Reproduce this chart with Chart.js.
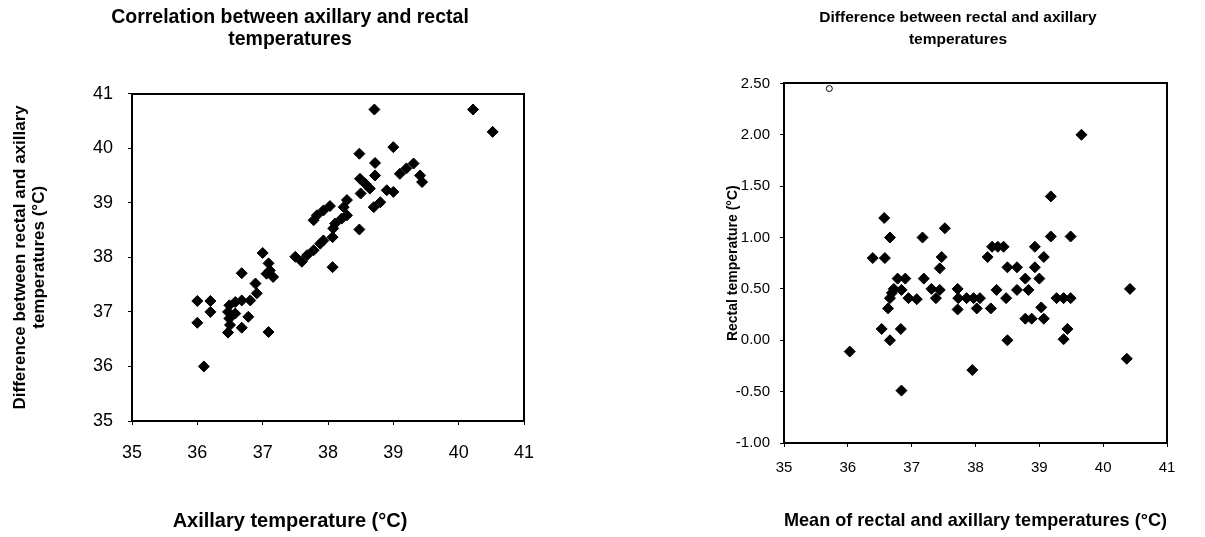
<!DOCTYPE html>
<html><head><meta charset="utf-8">
<script src="https://cdn.jsdelivr.net/npm/chart.js@4.4.1/dist/chart.umd.min.js"></script>
<style>
html,body{margin:0;padding:0;background:#fff;width:1205px;height:537px;overflow:hidden;}
#wrapL{position:absolute;left:0;top:0;width:580px;height:537px;}
#wrapR{position:absolute;left:711px;top:0;width:494px;height:537px;}
</style></head><body>
<div id="wrapL"><canvas id="cL"></canvas></div>
<div id="wrapR"><canvas id="cR"></canvas></div>
<script>
// ---- Left chart: axillary vs rectal ----
const leftTitle = ['Correlation between axillary and rectal', 'temperatures'];
const leftXTitle = 'Axillary temperature (\u00B0C)';
const leftYTitle = ['Difference between rectal and axillary', 'temperatures (\u00B0C)'];
const leftXTicks = [35, 36, 37, 38, 39, 40, 41];
const leftYTicks = [35, 36, 37, 38, 39, 40, 41];
const leftX = [36.0, 36.2, 36.2, 36.0, 36.1,
  36.49, 36.47, 36.49, 36.58, 36.5, 36.58, 36.68, 36.81, 36.91,
  36.78, 36.68, 36.47, 37.09,
  36.89, 36.68, 37.0,
  37.09, 37.11, 37.16, 37.06,
  37.5, 37.6, 37.68, 37.78, 37.88, 37.93,
  38.07, 38.07, 38.48,
  38.08, 38.11, 38.21, 38.29,
  37.78, 37.83, 37.93, 38.03,
  38.29, 38.24,
  38.8, 38.7,
  38.9, 39.0,
  38.49, 38.57, 38.5, 38.64,
  39.1, 39.2, 39.31,
  39.41, 39.44,
  38.72, 38.72, 38.48, 39.0, 38.71,
  40.22, 40.52];
const leftY = [37.2, 37.2, 37.0, 36.8, 36.0,
  37.12, 37.0, 36.88, 36.97, 36.76, 37.18, 37.21, 37.21, 37.34,
  36.91, 36.71, 36.62, 36.63,
  37.52, 37.71, 38.08,
  37.89, 37.76, 37.64, 37.7,
  38.01, 37.92, 38.04, 38.13, 38.25, 38.31,
  37.82, 38.37, 38.51,
  38.53, 38.62, 38.71, 38.77,
  38.68, 38.77, 38.86, 38.94,
  39.05, 38.92,
  39.01, 38.92,
  39.23, 39.2,
  39.44, 39.35, 39.17, 39.26,
  39.53, 39.63, 39.72,
  39.5, 39.38,
  39.5, 39.73, 39.9, 40.02, 40.71,
  40.71, 40.3];

// ---- Right chart: difference vs mean ----
const rightTitle = ['Difference between rectal and axillary', 'temperatures'];
const rightXTitle = 'Mean of rectal and axillary temperatures (\u00B0C)';
const rightYTitle = 'Rectal temperature (\u00B0C)';
const rightXTicks = [35, 36, 37, 38, 39, 40, 41];
const rightYTicks = [-1.0, -0.5, 0.0, 0.5, 1.0, 1.5, 2.0, 2.5];
const rightYTickLabels = ['-1.00', '-0.50', '0.00', '0.50', '1.00', '1.50', '2.00', '2.50'];
const rightX = [36.03, 36.39, 36.53, 36.57, 36.58, 36.63, 36.66, 36.66, 36.69, 36.72,
  36.66, 36.78, 36.84, 36.83, 36.84, 36.90, 36.95, 37.08, 37.17, 37.19,
  37.31, 37.38, 37.44, 37.44, 37.47, 37.52, 37.72, 37.73, 37.72, 37.86,
  37.97, 38.07, 38.02, 37.95, 38.19, 38.24, 38.26, 38.35, 38.44, 38.33,
  38.48, 38.50, 38.65, 38.65, 38.50, 38.78, 38.83, 38.78, 38.88, 38.93,
  38.93, 39.00, 39.07, 39.03, 39.07, 39.18, 39.18, 39.49, 39.27, 39.38,
  39.49, 39.44, 39.38, 39.66, 40.42, 40.37];
const rightY = [-0.11, 0.80, 0.11, 1.19, 0.80, 0.31, 1.00, 0.41, 0.46, 0.50,
  0.00, 0.60, 0.49, 0.11, -0.49, 0.60, 0.41, 0.40, 1.00, 0.60,
  0.50, 0.41, 0.49, 0.70, 0.81, 1.09, 0.50, 0.41, 0.30, 0.41,
  0.41, 0.41, 0.31, -0.29, 0.81, 0.31, 0.91, 0.91, 0.91, 0.49,
  0.41, 0.71, 0.71, 0.49, 0.00, 0.60, 0.49, 0.21, 0.21, 0.91,
  0.71, 0.60, 0.81, 0.32, 0.21, 1.40, 1.01, 1.01, 0.41, 0.41,
  0.41, 0.11, 0.01, 2.00, 0.50, -0.18];
const rightOpenX = [35.71];
const rightOpenY = [2.45];

Chart.defaults.font.family = '"Liberation Sans", Arial, Helvetica, sans-serif';
Chart.defaults.color = '#000';

const zip = (xs, ys) => xs.map((x, i) => ({ x: x, y: ys[i] }));
const tickMarks = { display: true, drawOnChartArea: false, drawTicks: true, tickLength: 4, color: '#000', lineWidth: 1 };
const frame = { display: true, color: '#000', width: 2 };
const hiddenAxis = (pos, min, max, fitFn) => ({
  type: 'linear', position: pos, min: min, max: max, display: true,
  ticks: { display: false }, grid: { display: false, drawTicks: false },
  border: frame, afterFit: fitFn
});

new Chart(document.getElementById('cL'), {
  type: 'scatter',
  data: { datasets: [{
    data: zip(leftX, leftY), pointStyle: 'rectRot', pointRadius: 5.5,
    backgroundColor: '#000', borderColor: '#000', borderWidth: 1
  }] },
  options: {
    responsive: true, maintainAspectRatio: false, animation: false, devicePixelRatio: 1,
    layout: { padding: 0 },
    plugins: {
      legend: { display: false }, tooltip: { enabled: false },
      title: { display: true, text: leftTitle, color: '#000',
        font: { size: 19.5, weight: 'bold', lineHeight: 1.12 }, padding: { top: 7, bottom: 43 } },
      subtitle: { display: true, position: 'bottom', text: leftXTitle, color: '#000',
        font: { size: 20, weight: 'bold', lineHeight: 1.2 }, padding: { top: 0, bottom: 4 } }
    },
    scales: {
      x: { type: 'linear', position: 'bottom', min: 35, max: 41,
        afterBuildTicks: s => { s.ticks = leftXTicks.map(v => ({ value: v })); },
        ticks: { color: '#000', font: { size: 18 }, padding: 17, callback: v => String(v) },
        grid: tickMarks, border: frame, afterFit: s => { s.height = 88; } },
      y: { type: 'linear', position: 'left', min: 35, max: 41,
        afterBuildTicks: s => { s.ticks = leftYTicks.map(v => ({ value: v })); },
        ticks: { color: '#000', font: { size: 18 }, padding: 15, callback: v => String(v) },
        grid: tickMarks, border: frame, afterFit: s => { s.width = 132; },
        title: { display: true, text: leftYTitle, color: '#000',
          font: { size: 17, weight: 'bold', lineHeight: 1.12 }, padding: { top: 11, bottom: 0 } } },
      x2: hiddenAxis('top', 35, 41, s => { s.height = 0; }),
      y2: hiddenAxis('right', 35, 41, s => { s.width = 56; })
    }
  }
});

new Chart(document.getElementById('cR'), {
  type: 'scatter',
  data: { datasets: [{
    data: zip(rightX, rightY), pointStyle: 'rectRot', pointRadius: 5.5,
    backgroundColor: '#000', borderColor: '#000', borderWidth: 1
  }, {
    data: zip(rightOpenX, rightOpenY), pointStyle: 'circle', pointRadius: 3,
    backgroundColor: '#fff', borderColor: '#000', borderWidth: 1
  }] },
  options: {
    responsive: true, maintainAspectRatio: false, animation: false, devicePixelRatio: 1,
    layout: { padding: 0 },
    plugins: {
      legend: { display: false }, tooltip: { enabled: false },
      title: { display: true, text: rightTitle, color: '#000',
        font: { size: 15.5, weight: 'bold', lineHeight: 1.4 }, padding: { top: 7, bottom: 33 } }
    },
    scales: {
      x: { type: 'linear', position: 'bottom', min: 35, max: 41,
        afterBuildTicks: s => { s.ticks = rightXTicks.map(v => ({ value: v })); },
        ticks: { color: '#000', font: { size: 15 }, padding: 12, callback: v => String(v) },
        grid: tickMarks, border: frame, afterFit: s => { s.height = 94; },
        title: { display: true, text: rightXTitle, color: '#000',
          font: { size: 19, weight: 'bold', lineHeight: 1.2 }, padding: { top: 0, bottom: 5 } } },
      y: { type: 'linear', position: 'left', min: -1, max: 2.5,
        afterBuildTicks: s => { s.ticks = rightYTicks.map(v => ({ value: v })); },
        ticks: { color: '#000', font: { size: 15 }, padding: 10,
          callback: v => rightYTickLabels[rightYTicks.indexOf(v)] },
        grid: tickMarks, border: frame, afterFit: s => { s.width = 73; },
        title: { display: true, text: rightYTitle, color: '#000',
          font: { size: 14, weight: 'bold', lineHeight: 1.2 }, padding: { top: 14, bottom: 0 } } },
      x2: hiddenAxis('top', 35, 41, s => { s.height = 0; }),
      y2: hiddenAxis('right', -1, 2.5, s => { s.width = 38; })
    }
  }
});
</script>
</body></html>
